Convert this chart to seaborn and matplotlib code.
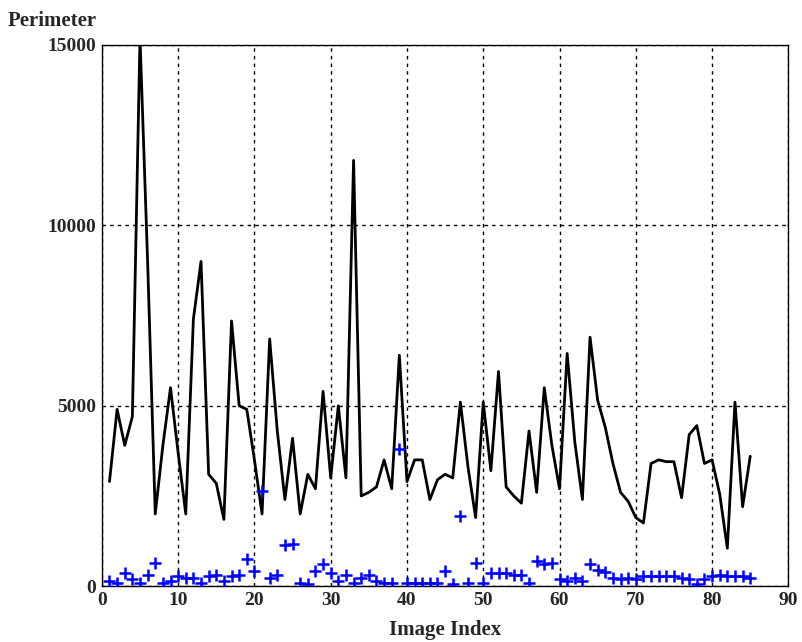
import numpy as np
import pandas as pd
import matplotlib
matplotlib.use("Agg")
import matplotlib.pyplot as plt
import seaborn as sns

# image indices 1..85
image_index = list(range(1, 86))

# perimeter of the detected region (black line)
perimeter_line = [
    2900, 4900, 3900, 4700, 15200, 9000, 2000, 3900, 5500, 3700,
    2000, 7400, 9000, 3100, 2850, 1850, 7350, 5000, 4900, 3500,
    2000, 6850, 4300, 2400, 4100, 2000, 3100, 2700, 5400, 3000,
    5000, 3000, 11800, 2500, 2600, 2750, 3500, 2700, 6400, 2900,
    3500, 3500, 2400, 2950, 3100, 3000, 5100, 3300, 1900, 5100,
    3200, 5950, 2750, 2500, 2300, 4300, 2600, 5500, 3900, 2700,
    6450, 4000, 2400, 6900, 5150, 4400, 3400, 2600, 2350, 1900,
    1750, 3400, 3500, 3450, 3450, 2450, 4200, 4450, 3400, 3500,
    2550, 1050, 5100, 2200, 3600,
]

# perimeter of the reference region (blue pluses)
perimeter_plus = [
    140, 90, 370, 185, 90, 320, 650, 90, 140, 280,
    230, 230, 90, 280, 320, 140, 280, 320, 740, 415,
    2650, 230, 320, 1150, 1170, 90, 50, 415, 600, 370,
    140, 320, 90, 230, 320, 140, 90, 90, 3800, 90,
    90, 90, 90, 90, 415, 50, 1950, 90, 650, 90,
    370, 370, 370, 320, 320, 90, 690, 600, 650, 185,
    140, 230, 140, 600, 460, 400, 230, 185, 230, 185,
    280, 280, 280, 280, 280, 230, 185, 50, 185, 280,
    320, 280, 280, 280, 230,
]

df = pd.DataFrame({"idx": image_index, "line": perimeter_line,
                   "plus": perimeter_plus})

sns.set_style("white")
plt.rcParams['font.family'] = ['Liberation Serif', 'DejaVu Serif']

fig = plt.figure(figsize=(8.02, 6.42), dpi=100)
ax = fig.add_axes([0.127, 0.087, 0.856, 0.843])

sns.lineplot(data=df, x="idx", y="line", color="black", linewidth=2,
             ax=ax, zorder=3)
sns.scatterplot(data=df, x="idx", y="plus", marker="+", color="blue",
                s=85, linewidth=1.8, ax=ax, zorder=4)

ax.set_xlim(0, 90)
ax.set_ylim(0, 15000)
ax.set_xticks(np.arange(0, 91, 10))
ax.set_yticks([0, 5000, 10000, 15000])
ax.grid(True, color="black", linestyle=(0, (2.5, 3)), linewidth=1)
ax.set_axisbelow(True)
for s in ax.spines.values():
    s.set_color("black")
    s.set_linewidth(1)
ax.tick_params(direction="in", length=4, labelsize=14, pad=4)
for lab in ax.get_xticklabels() + ax.get_yticklabels():
    lab.set_fontweight("bold")

ax.set_xlabel("Image Index", fontsize=15, fontweight="bold", labelpad=8)
ax.set_ylabel("")
fig.text(0.01, 0.967, "Perimeter", fontsize=15, fontweight="bold",
         va="center", ha="left")

plt.savefig("out.png", dpi=100)
